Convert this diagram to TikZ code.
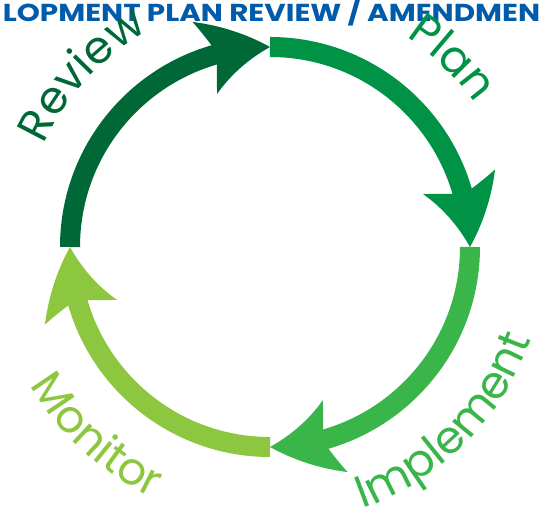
\documentclass[tikz,border=0pt]{standalone}
\usepackage{fontspec}
\setmainfont{Poppins}
\usetikzlibrary{arrows.meta, bending, decorations.text, positioning}
\definecolor{reviewgreen}{RGB}{0,104,55}
\definecolor{plangreen}{RGB}{0,146,69}
\definecolor{implementgreen}{RGB}{57,181,74}
\definecolor{monitorgreen}{RGB}{141,198,63}
\definecolor{titleblue}{RGB}{0,91,170}
\newcommand{\labelsize}{\fontsize{45}{45}\selectfont}
\tikzset{
x=1pt, y=1pt, % one unit is one pixel of the picture
>={Stealth[length=68pt, width=76pt, inset=14pt, line width=0pt, bend]}, % the big swept heads
cycle arc/.style={line width=20pt, line cap=butt, ->}, % each quarter of the ring
cycle label/.style 2 args={decorate, decoration={text along path, text align=center, text={|\labelsize\color{#1}|#2}}}, % words round the ring
title/.style={anchor=base, text=titleblue, font=\bfseries\fontsize{24.5}{24.5}\selectfont, inner sep=0pt, xscale=1.2}, % cut off heading
}

\begin{document}
\begin{tikzpicture}
  \useasboundingbox (0,0) rectangle (543,508);
  \coordinate (C) at (270,261);
  \coordinate (top) at (270,461);
  \coordinate (right) at (470,261);
  \coordinate (bottom) at (270,61);
  \coordinate (left) at (70,261);

  \node[title] (head) at (271.5,486) {LOPMENT PLAN REVIEW / AMENDMEN};

  \draw[cycle arc, plangreen] (top) arc[start angle=90, end angle=0, radius=200];
  \draw[cycle arc, implementgreen] (right) arc[start angle=0, end angle=-90, radius=200];
  \draw[cycle arc, monitorgreen] (bottom) arc[start angle=-90, end angle=-180, radius=200];
  \draw[cycle arc, reviewgreen] (left) arc[start angle=180, end angle=90, radius=200];

  % top words run clockwise, bottom words anticlockwise
  \path[cycle label={reviewgreen}{Review}] ([shift={(180:248)}]C) arc[start angle=180, end angle=95, radius=248];
  \path[cycle label={plangreen}{Plan}] ([shift={(87:250)}]C) arc[start angle=87, end angle=5, radius=250];
  \path[cycle label={implementgreen}{Implement}] ([shift={(-95:277)}]C) arc[start angle=-95, end angle=5, radius=277];
  \path[cycle label={monitorgreen}{Monitor}] ([shift={(-180:277)}]C) arc[start angle=-180, end angle=-85, radius=277];
\end{tikzpicture}
\end{document}
